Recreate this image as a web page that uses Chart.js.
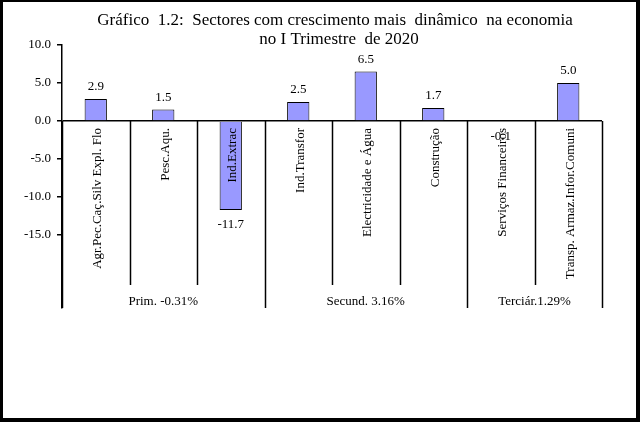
<!DOCTYPE html>
<html>
<head>
<meta charset="utf-8">
<script src="https://cdn.jsdelivr.net/npm/chart.js@4.4.0/dist/chart.umd.min.js"></script>
<style>
  html, body { margin: 0; padding: 0; background: #fff; }
  canvas { display: block; }
</style>
</head>
<body>
<canvas id="chart" width="640" height="422"></canvas>
<script>
const titleLines = ['Gráfico  1.2:  Sectores com crescimento mais  dinâmico  na economia', 'no I Trimestre  de 2020'];
const categories = ['Agr.Pec.Caç.Silv Expl. Flo', 'Pesc.Aqu.', 'Ind.Extrac', 'Ind.Transfor', 'Electricidade e Água', 'Construção', 'Serviços Financeiros', 'Transp. Armaz.Infor.Comuni'];
const growth = [2.9, 1.5, -11.7, 2.5, 6.5, 1.7, -0.1, 5.0];
const groupLabels = ['Prim. -0.31%', 'Secund. 3.16%', 'Terciár.1.29%'];
const groupBounds = [0, 3, 6, 8];
const yTicks = [10, 5, 0, -5, -10, -15];

const serif = '"Liberation Serif", "Times New Roman", serif';

// black frame round the picture
const framePlugin = {
  id: 'frame',
  beforeDraw(chart) {
    const ctx = chart.ctx;
    ctx.save();
    ctx.fillStyle = '#000';
    ctx.fillRect(0, 0, chart.width, chart.height);
    ctx.fillStyle = '#fff';
    ctx.fillRect(3, 2, chart.width - 7, chart.height - 6);
    ctx.restore();
  }
};

const titlePlugin = {
  id: 'titleText',
  afterDraw(chart) {
    const ctx = chart.ctx;
    ctx.save();
    ctx.fillStyle = '#000';
    ctx.font = '17px ' + serif;
    ctx.textAlign = 'center';
    ctx.textBaseline = 'middle';
    ctx.fillText(titleLines[0], 335, 21);
    ctx.fillText(titleLines[1], 339, 40);
    ctx.restore();
  }
};

// value labels, category labels, separators and sector groups
const axisPlugin = {
  id: 'axisBoxes',
  afterDraw(chart) {
    const ctx = chart.ctx;
    const x = chart.scales.x;
    const y = chart.scales.y;
    const zero = y.getPixelForValue(0);
    const bottom = chart.chartArea.bottom;
    const step = (x.right - x.left) / categories.length;
    ctx.save();
    ctx.strokeStyle = '#000';
    ctx.lineWidth = 1.5;
    for (let i = 1; i < categories.length; i++) {
      if (groupBounds.includes(i)) continue;
      const px = Math.round(x.left + i * step) + 0.5;
      ctx.beginPath();
      ctx.moveTo(px, zero);
      ctx.lineTo(px, bottom - 23);
      ctx.stroke();
    }
    groupBounds.forEach(i => {
      const px = Math.round(x.left + i * step) + 0.5;
      ctx.beginPath();
      ctx.moveTo(px, zero);
      ctx.lineTo(px, bottom);
      ctx.stroke();
    });

    ctx.fillStyle = '#000';
    ctx.font = '13px ' + serif;
    ctx.textAlign = 'center';
    groupLabels.forEach((lbl, g) => {
      const cx = x.left + (groupBounds[g] + groupBounds[g + 1]) / 2 * step;
      ctx.textBaseline = 'middle';
      ctx.fillText(lbl, cx, bottom - 6);
    });

    const meta = chart.getDatasetMeta(0);
    meta.data.forEach((bar, i) => {
      const v = growth[i];
      ctx.textAlign = 'center';
      if (v >= 0) {
        ctx.textBaseline = 'bottom';
        ctx.fillText(v.toFixed(1), bar.x, bar.y - 6);
      } else {
        ctx.textBaseline = 'top';
        ctx.fillText(v.toFixed(1), bar.x, bar.y + 8);
      }
    });

    categories.forEach((lbl, i) => {
      const cx = x.getPixelForValue(i) + 2;
      ctx.save();
      ctx.translate(cx, zero + 7);
      ctx.rotate(-Math.PI / 2);
      ctx.textAlign = 'right';
      ctx.textBaseline = 'middle';
      ctx.font = '13px ' + serif;
      ctx.fillText(lbl, 0, 0);
      ctx.restore();
    });
    ctx.restore();
  }
};

new Chart(document.getElementById('chart'), {
  type: 'bar',
  data: {
    labels: categories,
    datasets: [{
      data: growth,
      backgroundColor: '#9999ff',
      borderColor: '#000',
      borderWidth: 1,
      barPercentage: 0.33,
      categoryPercentage: 1
    }]
  },
  options: {
    responsive: false,
    animation: false,
    layout: { padding: { left: 3, top: 45, right: 38, bottom: 114 } },
    plugins: {
      legend: { display: false },
      title: { display: false },
      tooltip: { enabled: false }
    },
    scales: {
      x: {
        display: false
      },
      y: {
        min: -24.6,
        max: 10,
        afterBuildTicks: scale => { scale.ticks = yTicks.map(v => ({ value: v })); },
        afterFit: scale => { scale.width = 59; },
        border: { color: '#000', width: 1.5 },
        grid: {
          color: ctx => ctx.tick && ctx.tick.value === 0 ? '#000' : 'rgba(0,0,0,0)',
          lineWidth: 1.5,
          tickColor: '#000',
          tickLength: 5,
          drawTicks: true
        },
        ticks: {
          color: '#000',
          padding: 6,
          font: { family: serif, size: 13 },
          callback: v => Number(v).toFixed(1)
        }
      }
    }
  },
  plugins: [framePlugin, titlePlugin, axisPlugin]
});
</script>
</body>
</html>
